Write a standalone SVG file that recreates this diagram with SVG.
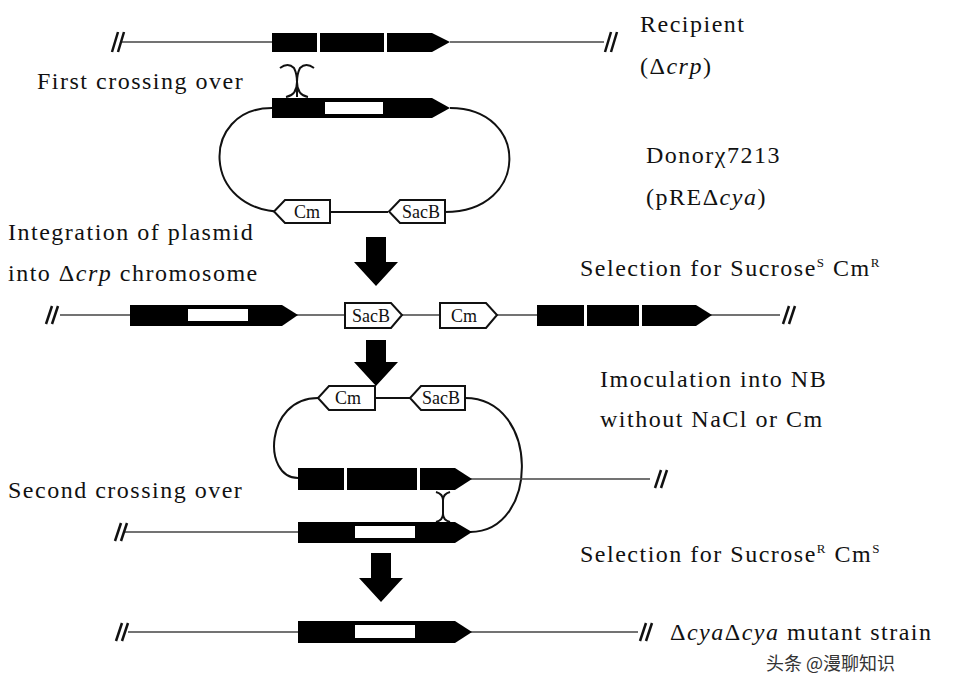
<svg xmlns="http://www.w3.org/2000/svg" width="965" height="694" viewBox="0 0 965 694">
<style>
.t{font-family:"Liberation Serif",serif;font-size:24px;letter-spacing:1.5px;fill:#111}
.b{font-family:"Liberation Serif",serif;font-size:18px;fill:#111}
.l{stroke:#111;stroke-width:2;fill:none}
.lt{stroke:#444;stroke-width:1.6;fill:none}
.g{fill:#000}
.w{fill:#fff}
.bx{fill:#fff;stroke:#111;stroke-width:2}
.s{stroke:#111;stroke-width:2.5}
</style>
<rect width="965" height="694" fill="#fff"/>
<g id="connectors">
<line class="lt" x1="120" y1="42" x2="272" y2="42"/><line class="lt" x1="450" y1="42" x2="604" y2="42"/>
<path class="s" d="M112 52 L118 32 M118 52 L124 32 M605 52 L611 32 M611 52 L617 32"/>
<path class="l" d="M272 108 C200 108 200 212 285 212 M330 212 L388 212 M445 212 C530 212 530 108 450 108"/>
<path class="l" d="M280 68 Q288 62 294 68 Q297 74 297 82 Q297 74 300 68 Q306 62 314 68 M297 82 L297 97 M286 97 Q297 95 297 82 Q297 95 308 97"/>
<line class="lt" x1="60" y1="315" x2="780" y2="315"/>
<path class="s" d="M46 324 L52 306 M52 324 L58 306 M783 324 L789 306 M789 324 L795 306"/>
<path class="l" d="M318 398 C265 398 262 478 298 478 M375 398 L410 398 M465 398 C540 398 540 532 470 532"/>
<line class="lt" x1="470" y1="479" x2="650" y2="479"/>
<path class="s" d="M655 488 L661 470 M661 488 L667 470"/>
<line class="lt" x1="125" y1="532" x2="298" y2="532"/>
<path class="s" d="M115 541 L121 523 M121 541 L127 523"/>
<path class="l" d="M436 492 Q443 494 443 500 Q443 494 450 492 M443 500 L443 514 M436 522 Q443 520 443 514 Q443 520 450 522"/>
<line class="lt" x1="128" y1="632" x2="298" y2="632"/><line class="lt" x1="470" y1="632" x2="638" y2="632"/>
<path class="s" d="M116 641 L122 623 M122 641 L128 623 M640 641 L646 623 M646 641 L652 623"/>
</g>
<g id="recipient"><path class="g" d="M272 33 H432 L450 42 L432 52 H272 Z"/><rect class="w" x="317" y="33" width="3" height="19"/><rect class="w" x="384" y="33" width="3" height="19"/></g>
<g id="donor"><path class="g" d="M272 98 H432 L450 108 L432 118 H272 Z"/><rect class="w" x="325" y="102" width="58" height="12"/>
<path class="bx" d="M285 200 H330 V223 H285 L274 211.5 Z"/><text class="b" x="307" y="218" text-anchor="middle">Cm</text>
<path class="bx" d="M400 200 H445 V223 H400 L389 211.5 Z"/><text class="b" x="421" y="218" text-anchor="middle">SacB</text></g>
<g id="arrows" class="g">
<path d="M366 237 H386 V262 H398 L376 286 L354 262 H366 Z"/>
<path d="M366 340 H386 V362 H398 L376 386 L354 362 H366 Z"/>
<path d="M371 553 H391 V578 H403 L381 602 L359 578 H371 Z"/>
</g>
<g id="integrated"><path class="g" d="M130 305 H282 L298 315 L282 326 H130 Z"/><rect class="w" x="188" y="309" width="60" height="12"/>
<path class="bx" d="M345 303 H391 L402 315 L391 328 H345 Z"/><text class="b" x="371" y="322" text-anchor="middle">SacB</text>
<path class="bx" d="M440 303 H486 L497 315 L486 328 H440 Z"/><text class="b" x="464" y="322" text-anchor="middle">Cm</text>
<path class="g" d="M537 305 H696 L712 315 L696 326 H537 Z"/><rect class="w" x="584" y="305" width="3" height="21"/><rect class="w" x="639" y="305" width="3" height="21"/></g>
<g id="excision">
<path class="bx" d="M329 386 H375 V410 H329 L318 398 Z"/><text class="b" x="348" y="404" text-anchor="middle">Cm</text>
<path class="bx" d="M421 386 H465 V410 H421 L410 398 Z"/><text class="b" x="441" y="404" text-anchor="middle">SacB</text>
<path class="g" d="M298 468 H455 L472 479 L455 490 H298 Z"/><rect class="w" x="344" y="468" width="3" height="22"/><rect class="w" x="417" y="468" width="3" height="22"/>
<path class="g" d="M298 522 H455 L472 532 L455 543 H298 Z"/><rect class="w" x="355" y="526" width="60" height="12"/></g>
<g id="mutant"><path class="g" d="M298 621 H455 L472 632 L455 643 H298 Z"/><rect class="w" x="355" y="625" width="60" height="13"/></g>
<g id="labels">
<text class="t" x="640" y="32">Recipient</text>
<text class="t" x="640" y="74">(Δ<tspan font-style="italic">crp</tspan>)</text>
<text class="t" x="37" y="89">First crossing over</text>
<text class="t" x="646" y="163">Donorχ7213</text>
<text class="t" x="646" y="205">(pREΔ<tspan font-style="italic">cya</tspan>)</text>
<text class="t" x="8" y="240">Integration of plasmid</text>
<text class="t" x="8" y="281">into Δ<tspan font-style="italic">crp</tspan> chromosome</text>
<text class="t" x="580" y="276">Selection for Sucrose<tspan font-size="13" dy="-9">S</tspan><tspan dy="9"> Cm</tspan><tspan font-size="13" dy="-9">R</tspan></text>
<text class="t" x="600" y="387">Imoculation into NB</text>
<text class="t" x="600" y="427">without NaCl or Cm</text>
<text class="t" x="8" y="498">Second crossing over</text>
<text class="t" x="580" y="562">Selection for Sucrose<tspan font-size="13" dy="-9">R</tspan><tspan dy="9"> Cm</tspan><tspan font-size="13" dy="-9">S</tspan></text>
<text class="t" x="670" y="640">Δ<tspan font-style="italic">cya</tspan>Δ<tspan font-style="italic">cya</tspan> mutant strain</text>
<text x="766" y="670" font-family="'Noto Sans CJK SC',sans-serif" font-size="18" fill="#333">头条 @漫聊知识</text>
</g>
</svg>
